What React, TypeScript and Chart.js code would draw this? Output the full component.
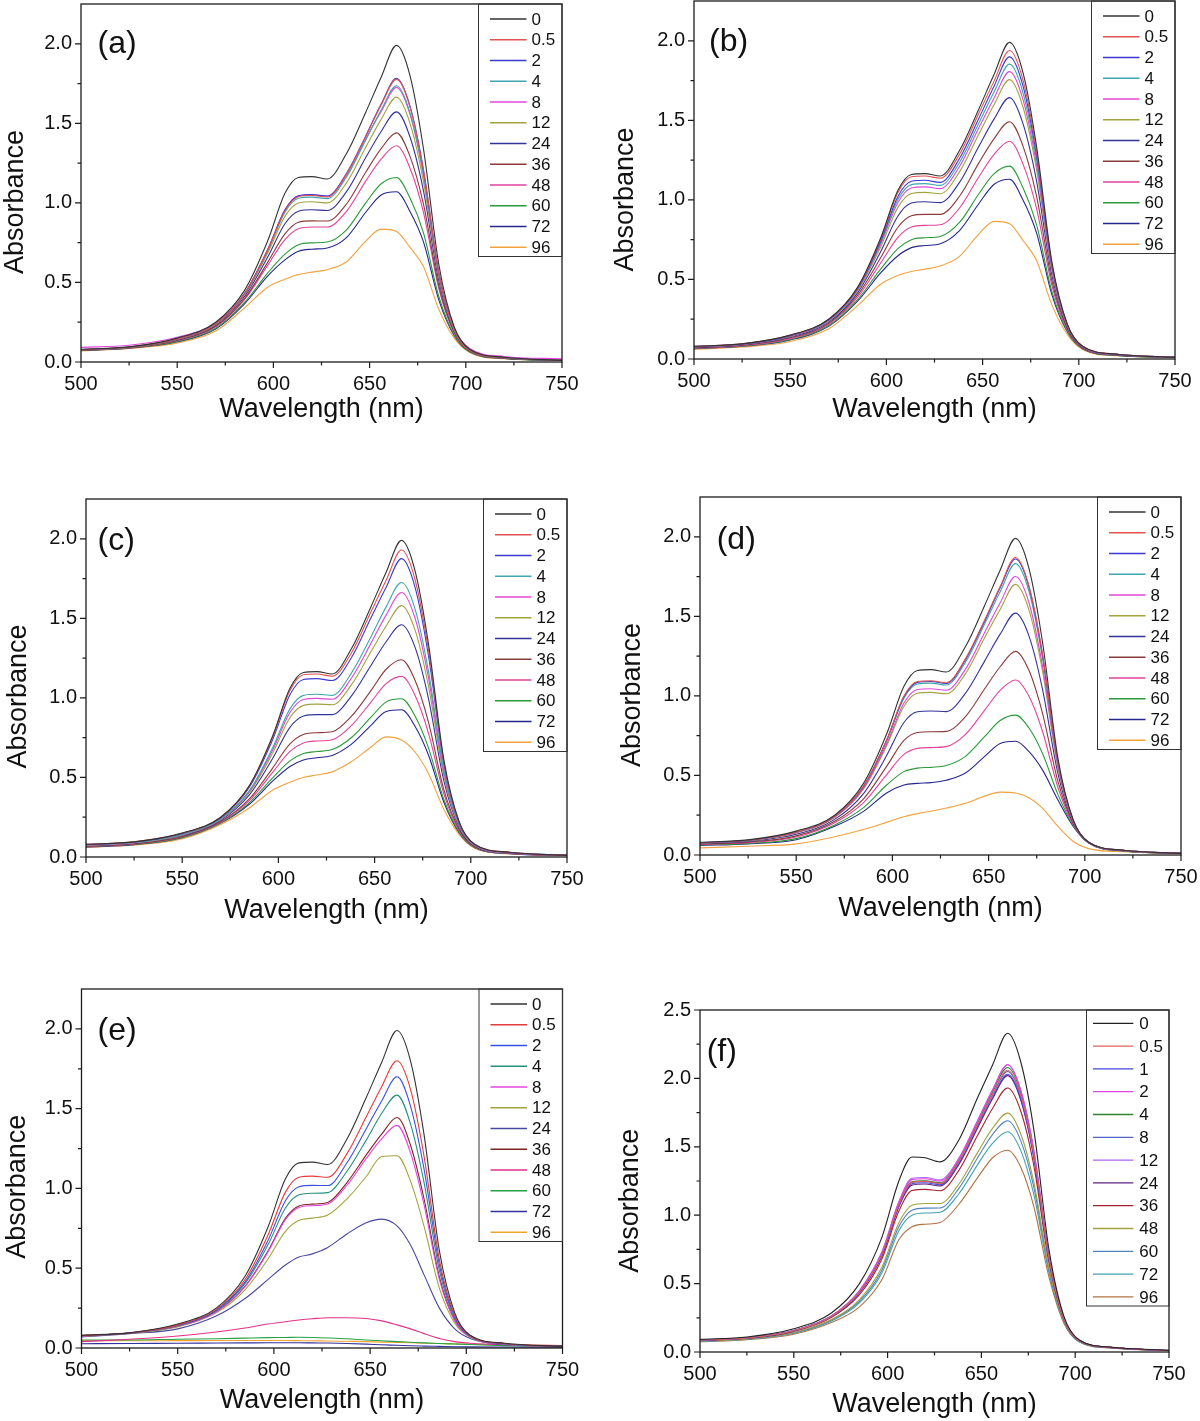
import React, { useEffect, useRef } from 'react';
import { Chart, registerables } from 'chart.js';

Chart.register(...registerables);

// ---------------- data ----------------
const WAVELENGTH = [500, 525, 550, 570, 585, 597, 606, 613, 620, 628, 638, 648, 656, 664, 671, 678, 686, 694, 702, 720, 750];
const X_MAJOR = [500, 550, 600, 650, 700, 750];
const X_MINOR = [525, 575, 625, 675, 725];
const Y_MAJOR_A = [0, 0.5, 1.0, 1.5, 2.0];
const Y_MINOR_A = [0.25, 0.75, 1.25, 1.75];
const Y_MAJOR_F = [0, 0.5, 1.0, 1.5, 2.0, 2.5];
const Y_MINOR_F = [0.25, 0.75, 1.25, 1.75, 2.25];
const HOURS_AE = ['0', '0.5', '2', '4', '8', '12', '24', '36', '48', '60', '72', '96'];
const HOURS_F = ['0', '0.5', '1', '2', '4', '8', '12', '24', '36', '48', '60', '72', '96'];

// panel (a)
const a0 = [0.08, 0.095, 0.15, 0.25, 0.45, 0.76, 1.06, 1.16, 1.165, 1.15, 1.31, 1.57, 1.79, 1.99, 1.80, 1.34, 0.61, 0.22, 0.08, 0.03, 0.01];
const a05 = [0.078, 0.093, 0.144, 0.239, 0.428, 0.703, 0.951, 1.039, 1.046, 1.037, 1.181, 1.416, 1.615, 1.776, 1.602, 1.205, 0.559, 0.207, 0.076, 0.028, 0.01];
const a2 = [0.079, 0.094, 0.145, 0.240, 0.430, 0.706, 0.956, 1.045, 1.052, 1.043, 1.186, 1.421, 1.621, 1.783, 1.608, 1.208, 0.560, 0.208, 0.077, 0.028, 0.01];
const a4 = [0.078, 0.093, 0.144, 0.238, 0.426, 0.698, 0.942, 1.029, 1.036, 1.027, 1.163, 1.395, 1.583, 1.736, 1.566, 1.179, 0.549, 0.205, 0.076, 0.028, 0.01];
const a8 = [0.092, 0.105, 0.155, 0.245, 0.43, 0.705, 0.955, 1.044, 1.051, 1.042, 1.169, 1.402, 1.574, 1.726, 1.556, 1.173, 0.547, 0.21, 0.085, 0.035, 0.02];
const a12 = [0.077, 0.092, 0.142, 0.235, 0.421, 0.683, 0.915, 0.999, 1.007, 1.0, 1.126, 1.35, 1.525, 1.665, 1.50, 1.134, 0.532, 0.20, 0.074, 0.027, 0.01];
const a24 = [0.077, 0.092, 0.14, 0.231, 0.412, 0.659, 0.869, 0.948, 0.957, 0.952, 1.071, 1.285, 1.449, 1.572, 1.414, 1.076, 0.51, 0.195, 0.073, 0.026, 0.01];
const a36 = [0.075, 0.09, 0.136, 0.225, 0.399, 0.626, 0.805, 0.878, 0.887, 0.886, 0.993, 1.193, 1.341, 1.44, 1.292, 0.992, 0.478, 0.187, 0.071, 0.025, 0.01];
const a48 = [0.075, 0.09, 0.134, 0.221, 0.392, 0.607, 0.769, 0.837, 0.848, 0.848, 0.947, 1.137, 1.275, 1.359, 1.218, 0.941, 0.459, 0.182, 0.069, 0.025, 0.015];
const a60 = [0.073, 0.088, 0.129, 0.212, 0.374, 0.559, 0.678, 0.737, 0.749, 0.754, 0.831, 1.0, 1.12, 1.16, 1.03, 0.812, 0.41, 0.17, 0.066, 0.023, 0.01];
const a72 = [0.072, 0.087, 0.127, 0.208, 0.366, 0.54, 0.642, 0.696, 0.709, 0.717, 0.782, 0.941, 1.05, 1.07, 0.946, 0.755, 0.389, 0.165, 0.064, 0.022, 0.01];
const a96 = [0.07, 0.085, 0.12, 0.195, 0.34, 0.47, 0.52, 0.55, 0.565, 0.58, 0.63, 0.76, 0.835, 0.82, 0.72, 0.60, 0.33, 0.15, 0.06, 0.02, 0.01];

// panel (b)
const b0 = [0.08, 0.095, 0.15, 0.25, 0.45, 0.76, 1.06, 1.16, 1.165, 1.15, 1.31, 1.57, 1.79, 1.99, 1.80, 1.34, 0.61, 0.22, 0.08, 0.03, 0.01];
const b05 = [0.08, 0.095, 0.149, 0.249, 0.447, 0.753, 1.046, 1.145, 1.15, 1.136, 1.287, 1.543, 1.748, 1.939, 1.753, 1.308, 0.598, 0.217, 0.079, 0.03, 0.01];
const b2 = [0.079, 0.094, 0.147, 0.246, 0.442, 0.74, 1.022, 1.117, 1.123, 1.11, 1.26, 1.511, 1.716, 1.899, 1.716, 1.282, 0.588, 0.215, 0.078, 0.029, 0.01];
const b4 = [0.078, 0.093, 0.146, 0.244, 0.438, 0.73, 1.003, 1.096, 1.102, 1.091, 1.235, 1.481, 1.679, 1.853, 1.673, 1.254, 0.578, 0.212, 0.078, 0.029, 0.01];
const b8 = [0.077, 0.092, 0.144, 0.242, 0.434, 0.72, 0.984, 1.075, 1.082, 1.071, 1.21, 1.452, 1.641, 1.806, 1.63, 1.224, 0.567, 0.21, 0.077, 0.028, 0.01];
const b12 = [0.076, 0.091, 0.142, 0.238, 0.427, 0.703, 0.953, 1.04, 1.047, 1.039, 1.176, 1.412, 1.60, 1.756, 1.584, 1.192, 0.555, 0.207, 0.076, 0.028, 0.01];
const b24 = [0.074, 0.089, 0.138, 0.232, 0.416, 0.674, 0.899, 0.98, 0.988, 0.983, 1.11, 1.335, 1.509, 1.643, 1.479, 1.121, 0.528, 0.20, 0.074, 0.027, 0.01];
const b36 = [0.071, 0.086, 0.133, 0.224, 0.401, 0.636, 0.828, 0.90, 0.909, 0.909, 1.023, 1.231, 1.385, 1.491, 1.338, 1.025, 0.492, 0.192, 0.071, 0.026, 0.01];
const b48 = [0.069, 0.084, 0.128, 0.218, 0.388, 0.603, 0.765, 0.83, 0.84, 0.844, 0.949, 1.144, 1.286, 1.369, 1.225, 0.948, 0.463, 0.185, 0.069, 0.025, 0.01];
const b60 = [0.067, 0.082, 0.123, 0.21, 0.373, 0.565, 0.694, 0.75, 0.762, 0.77, 0.858, 1.037, 1.165, 1.212, 1.076, 0.846, 0.425, 0.175, 0.066, 0.023, 0.01];
const b72 = [0.065, 0.08, 0.12, 0.205, 0.363, 0.541, 0.649, 0.70, 0.713, 0.724, 0.807, 0.976, 1.098, 1.13, 0.999, 0.794, 0.405, 0.171, 0.065, 0.022, 0.01];
const b96 = [0.06, 0.075, 0.11, 0.19, 0.335, 0.47, 0.525, 0.55, 0.565, 0.585, 0.645, 0.785, 0.865, 0.85, 0.745, 0.62, 0.34, 0.155, 0.06, 0.02, 0.01];

// panel (c)
const c0 = [0.08, 0.095, 0.15, 0.25, 0.45, 0.76, 1.06, 1.16, 1.165, 1.15, 1.31, 1.57, 1.79, 1.99, 1.80, 1.34, 0.61, 0.22, 0.08, 0.03, 0.01];
const c05 = [0.08, 0.095, 0.149, 0.249, 0.447, 0.752, 1.046, 1.145, 1.15, 1.136, 1.284, 1.538, 1.739, 1.929, 1.744, 1.30, 0.595, 0.216, 0.079, 0.03, 0.01];
const c2 = [0.079, 0.094, 0.148, 0.247, 0.441, 0.737, 1.02, 1.116, 1.121, 1.109, 1.254, 1.50, 1.695, 1.875, 1.696, 1.265, 0.582, 0.213, 0.078, 0.029, 0.01];
const c4 = [0.076, 0.091, 0.142, 0.24, 0.419, 0.686, 0.931, 1.016, 1.023, 1.016, 1.157, 1.381, 1.572, 1.725, 1.56, 1.168, 0.545, 0.203, 0.075, 0.028, 0.01];
const c8 = [0.075, 0.09, 0.141, 0.238, 0.414, 0.672, 0.908, 0.99, 0.997, 0.991, 1.125, 1.341, 1.52, 1.662, 1.502, 1.127, 0.529, 0.199, 0.073, 0.027, 0.01];
const c12 = [0.074, 0.089, 0.139, 0.236, 0.406, 0.653, 0.875, 0.953, 0.961, 0.957, 1.083, 1.288, 1.452, 1.58, 1.427, 1.074, 0.509, 0.194, 0.072, 0.027, 0.01];
const c24 = [0.072, 0.087, 0.135, 0.231, 0.392, 0.619, 0.815, 0.886, 0.895, 0.895, 1.013, 1.202, 1.353, 1.46, 1.319, 0.996, 0.479, 0.186, 0.069, 0.026, 0.01];
const c36 = [0.068, 0.083, 0.129, 0.223, 0.367, 0.559, 0.711, 0.77, 0.781, 0.787, 0.885, 1.044, 1.18, 1.24, 1.111, 0.848, 0.423, 0.172, 0.065, 0.024, 0.01];
const c48 = [0.067, 0.082, 0.127, 0.22, 0.356, 0.532, 0.664, 0.717, 0.729, 0.737, 0.827, 0.972, 1.09, 1.135, 1.016, 0.779, 0.397, 0.165, 0.063, 0.023, 0.01];
const c60 = [0.065, 0.08, 0.123, 0.215, 0.342, 0.497, 0.604, 0.65, 0.663, 0.675, 0.751, 0.877, 0.975, 0.995, 0.886, 0.686, 0.361, 0.156, 0.06, 0.022, 0.01];
const c72 = [0.063, 0.078, 0.121, 0.213, 0.333, 0.477, 0.569, 0.61, 0.624, 0.638, 0.709, 0.826, 0.915, 0.925, 0.822, 0.641, 0.344, 0.151, 0.059, 0.021, 0.01];
const c96 = [0.06, 0.075, 0.115, 0.205, 0.31, 0.42, 0.47, 0.50, 0.515, 0.535, 0.60, 0.69, 0.755, 0.735, 0.66, 0.525, 0.30, 0.14, 0.055, 0.02, 0.01];

// panel (d)
const d0 = [0.08, 0.095, 0.15, 0.25, 0.45, 0.76, 1.06, 1.16, 1.165, 1.15, 1.31, 1.57, 1.79, 1.99, 1.80, 1.34, 0.61, 0.22, 0.08, 0.03, 0.01];
const d05 = [0.078, 0.093, 0.145, 0.243, 0.433, 0.723, 0.999, 1.09, 1.095, 1.083, 1.234, 1.479, 1.688, 1.87, 1.692, 1.264, 0.585, 0.216, 0.08, 0.03, 0.01];
const d2 = [0.078, 0.092, 0.144, 0.243, 0.431, 0.721, 0.994, 1.085, 1.09, 1.078, 1.227, 1.471, 1.679, 1.86, 1.683, 1.258, 0.583, 0.216, 0.08, 0.03, 0.01];
const d4 = [0.078, 0.092, 0.144, 0.242, 0.429, 0.716, 0.986, 1.075, 1.08, 1.068, 1.212, 1.453, 1.654, 1.831, 1.656, 1.239, 0.577, 0.215, 0.079, 0.029, 0.01];
const d8 = [0.077, 0.091, 0.141, 0.238, 0.42, 0.697, 0.955, 1.04, 1.045, 1.035, 1.168, 1.40, 1.585, 1.75, 1.584, 1.189, 0.561, 0.212, 0.079, 0.029, 0.01];
const d12 = [0.076, 0.09, 0.139, 0.236, 0.415, 0.686, 0.935, 1.017, 1.022, 1.013, 1.14, 1.367, 1.543, 1.701, 1.539, 1.157, 0.55, 0.211, 0.079, 0.029, 0.01];
const d24 = [0.073, 0.086, 0.13, 0.224, 0.386, 0.625, 0.833, 0.90, 0.905, 0.901, 1.017, 1.22, 1.388, 1.52, 1.376, 1.043, 0.513, 0.205, 0.078, 0.028, 0.01];
const d36 = [0.069, 0.081, 0.12, 0.212, 0.353, 0.557, 0.72, 0.77, 0.775, 0.777, 0.87, 1.045, 1.183, 1.28, 1.159, 0.892, 0.464, 0.198, 0.077, 0.027, 0.01];
const d48 = [0.066, 0.078, 0.113, 0.202, 0.329, 0.505, 0.632, 0.67, 0.675, 0.681, 0.758, 0.911, 1.035, 1.10, 0.997, 0.778, 0.426, 0.192, 0.077, 0.027, 0.01];
const d60 = [0.063, 0.073, 0.103, 0.189, 0.298, 0.44, 0.524, 0.546, 0.551, 0.562, 0.62, 0.745, 0.845, 0.879, 0.798, 0.639, 0.381, 0.185, 0.076, 0.026, 0.01];
const d72 = [0.06, 0.07, 0.096, 0.18, 0.274, 0.39, 0.44, 0.45, 0.455, 0.47, 0.515, 0.62, 0.70, 0.715, 0.65, 0.535, 0.347, 0.18, 0.075, 0.025, 0.01];
const d96 = [0.045, 0.055, 0.07, 0.115, 0.16, 0.205, 0.24, 0.26, 0.275, 0.295, 0.325, 0.37, 0.395, 0.39, 0.36, 0.295, 0.18, 0.085, 0.04, 0.02, 0.01];

// panel (e)
const e0 = [0.08, 0.095, 0.15, 0.25, 0.45, 0.76, 1.06, 1.16, 1.165, 1.15, 1.31, 1.57, 1.79, 1.99, 1.80, 1.34, 0.61, 0.22, 0.08, 0.03, 0.01];
const e05 = [0.078, 0.094, 0.145, 0.242, 0.429, 0.71, 0.977, 1.07, 1.077, 1.07, 1.218, 1.449, 1.638, 1.80, 1.621, 1.204, 0.554, 0.205, 0.077, 0.028, 0.01];
const e2 = [0.077, 0.094, 0.142, 0.237, 0.414, 0.676, 0.923, 1.01, 1.019, 1.018, 1.161, 1.374, 1.548, 1.70, 1.516, 1.124, 0.521, 0.195, 0.075, 0.027, 0.01];
const e4 = [0.077, 0.093, 0.14, 0.233, 0.403, 0.648, 0.877, 0.96, 0.97, 0.974, 1.108, 1.303, 1.47, 1.585, 1.405, 1.039, 0.487, 0.186, 0.073, 0.027, 0.01];
const e8 = [0.075, 0.093, 0.136, 0.226, 0.384, 0.603, 0.804, 0.88, 0.892, 0.903, 1.02, 1.188, 1.31, 1.395, 1.223, 0.90, 0.43, 0.17, 0.07, 0.025, 0.01];
const e12 = [0.074, 0.092, 0.132, 0.22, 0.365, 0.559, 0.731, 0.80, 0.814, 0.833, 0.935, 1.075, 1.20, 1.205, 1.046, 0.765, 0.375, 0.155, 0.067, 0.024, 0.01];
const e24 = [0.07, 0.09, 0.12, 0.20, 0.31, 0.43, 0.52, 0.57, 0.59, 0.63, 0.715, 0.785, 0.808, 0.765, 0.645, 0.46, 0.25, 0.12, 0.06, 0.02, 0.01];
const e36 = [0.075, 0.093, 0.136, 0.227, 0.386, 0.609, 0.813, 0.89, 0.902, 0.912, 1.037, 1.21, 1.34, 1.445, 1.271, 0.937, 0.445, 0.174, 0.071, 0.025, 0.01];
const e48 = [0.04, 0.055, 0.075, 0.10, 0.125, 0.15, 0.165, 0.175, 0.183, 0.19, 0.19, 0.185, 0.17, 0.145, 0.12, 0.09, 0.06, 0.04, 0.03, 0.02, 0.015];
const e60 = [0.05, 0.05, 0.055, 0.058, 0.062, 0.065, 0.066, 0.067, 0.066, 0.063, 0.058, 0.05, 0.045, 0.04, 0.036, 0.032, 0.028, 0.025, 0.022, 0.015, 0.01];
const e72 = [0.027, 0.028, 0.03, 0.031, 0.032, 0.033, 0.033, 0.033, 0.032, 0.031, 0.028, 0.024, 0.02, 0.017, 0.014, 0.012, 0.01, 0.008, 0.007, 0.006, 0.005];
const e96 = [0.045, 0.045, 0.046, 0.047, 0.047, 0.047, 0.047, 0.046, 0.045, 0.044, 0.042, 0.04, 0.037, 0.035, 0.033, 0.03, 0.028, 0.026, 0.024, 0.02, 0.015];

// panel (f)
const f0 = [0.093, 0.11, 0.17, 0.285, 0.50, 0.84, 1.25, 1.425, 1.42, 1.39, 1.55, 1.86, 2.10, 2.33, 2.12, 1.62, 0.75, 0.26, 0.09, 0.035, 0.012];
const f05 = [0.087, 0.103, 0.156, 0.26, 0.44, 0.717, 1.078, 1.24, 1.247, 1.232, 1.392, 1.663, 1.885, 2.06, 1.877, 1.443, 0.687, 0.244, 0.085, 0.033, 0.011];
const f1 = [0.086, 0.102, 0.155, 0.259, 0.436, 0.711, 1.07, 1.23, 1.237, 1.223, 1.379, 1.647, 1.861, 2.03, 1.85, 1.423, 0.68, 0.242, 0.085, 0.033, 0.011];
const f2 = [0.087, 0.104, 0.157, 0.263, 0.446, 0.728, 1.093, 1.26, 1.266, 1.249, 1.412, 1.689, 1.917, 2.10, 1.913, 1.469, 0.696, 0.247, 0.086, 0.033, 0.011];
const f4 = [0.087, 0.103, 0.156, 0.261, 0.441, 0.719, 1.081, 1.245, 1.251, 1.236, 1.40, 1.673, 1.901, 2.08, 1.895, 1.456, 0.692, 0.245, 0.086, 0.033, 0.011];
const f8 = [0.087, 0.103, 0.156, 0.26, 0.44, 0.717, 1.078, 1.24, 1.247, 1.232, 1.389, 1.66, 1.878, 2.05, 1.868, 1.437, 0.685, 0.244, 0.085, 0.033, 0.011];
const f12 = [0.088, 0.104, 0.158, 0.264, 0.45, 0.734, 1.10, 1.27, 1.276, 1.258, 1.417, 1.694, 1.917, 2.10, 1.913, 1.469, 0.696, 0.247, 0.086, 0.033, 0.011];
const f24 = [0.086, 0.102, 0.154, 0.257, 0.433, 0.705, 1.062, 1.22, 1.228, 1.214, 1.371, 1.638, 1.853, 2.02, 1.84, 1.417, 0.677, 0.242, 0.085, 0.032, 0.011];
const f36 = [0.084, 0.10, 0.151, 0.252, 0.419, 0.682, 1.03, 1.18, 1.189, 1.179, 1.328, 1.584, 1.782, 1.93, 1.76, 1.358, 0.656, 0.237, 0.083, 0.032, 0.011];
const f48 = [0.081, 0.096, 0.143, 0.237, 0.383, 0.621, 0.945, 1.073, 1.086, 1.085, 1.228, 1.459, 1.636, 1.746, 1.594, 1.238, 0.613, 0.226, 0.08, 0.03, 0.011];
const f60 = [0.079, 0.095, 0.14, 0.232, 0.371, 0.60, 0.917, 1.037, 1.052, 1.053, 1.196, 1.42, 1.591, 1.69, 1.543, 1.201, 0.60, 0.223, 0.079, 0.03, 0.011];
const f72 = [0.078, 0.093, 0.137, 0.227, 0.359, 0.579, 0.887, 1.0, 1.016, 1.021, 1.157, 1.37, 1.527, 1.61, 1.472, 1.148, 0.582, 0.218, 0.077, 0.029, 0.011];
const f96 = [0.075, 0.09, 0.13, 0.215, 0.33, 0.53, 0.82, 0.915, 0.934, 0.946, 1.08, 1.275, 1.42, 1.475, 1.35, 1.06, 0.55, 0.21, 0.075, 0.028, 0.01];

const SERIES_A = [a0, a05, a2, a4, a8, a12, a24, a36, a48, a60, a72, a96];
const SERIES_B = [b0, b05, b2, b4, b8, b12, b24, b36, b48, b60, b72, b96];
const SERIES_C = [c0, c05, c2, c4, c8, c12, c24, c36, c48, c60, c72, c96];
const SERIES_D = [d0, d05, d2, d4, d8, d12, d24, d36, d48, d60, d72, d96];
const SERIES_E = [e0, e05, e2, e4, e8, e12, e24, e36, e48, e60, e72, e96];
const SERIES_F = [f0, f05, f1, f2, f4, f8, f12, f24, f36, f48, f60, f72, f96];

// ---------------- styles ----------------
const COLORS_AD = ['#333333', '#e25252', '#3a3ad2', '#3ea6ae', '#e246d8', '#a3a33e', '#33339a', '#8b3a3a', '#e2439c', '#2b9a3b', '#26268e', '#f2a23e'];
const COLORS_E = ['#333333', '#e63a3a', '#3a50e0', '#24907f', '#e444e0', '#a3a33e', '#4848a0', '#7e2424', '#e2318a', '#28a244', '#32329e', '#f2a232'];
const COLORS_F = ['#222222', '#e26262', '#4545e0', '#e046e0', '#318231', '#5262c4', '#b264f2', '#602282', '#a22232', '#a3a33e', '#5282c2', '#40a2b2', '#b27242'];
const FONT = '"Liberation Sans", Arial, Helvetica, sans-serif';

type Legend = { boxW: number; boxH: number; first: number; step: number; lineStart: number; lineEnd: number; textOff: number };
const LEG_AE: Legend = { boxW: 83.5, boxH: 252.5, first: 15, step: 20.75, lineStart: 72, lineEnd: 35.5, textOff: 30.5 };
const LEG_F: Legend = { boxW: 82.5, boxH: 296, first: 13.3, step: 22.8, lineStart: 76, lineEnd: 35.7, textOff: 29.7 };

type Panel = {
  letter: string;
  cv: { x: number; y: number; w: number; h: number };
  plot: { l: number; r: number; t: number; b: number };
  yMax: number;
  yMajor: number[];
  yMinor: number[];
  series: number[][];
  labels: string[];
  colors: string[];
  letterPos: [number, number];
  yTitle: [number, number];
  xTitleY: number;
  legend: Legend;
};

const PANELS: Panel[] = [
  { letter: '(a)', cv: { x: 0, y: 0, w: 600, h: 470 }, plot: { l: 81, r: 562, t: 4, b: 362 }, yMax: 2.25, yMajor: Y_MAJOR_A, yMinor: Y_MINOR_A, series: SERIES_A, labels: HOURS_AE, colors: COLORS_AD, letterPos: [97.5, 44], yTitle: [15.5, 202], xTitleY: 410, legend: LEG_AE },
  { letter: '(b)', cv: { x: 600, y: 0, w: 600, h: 470 }, plot: { l: 694, r: 1175, t: 1, b: 359 }, yMax: 2.25, yMajor: Y_MAJOR_A, yMinor: Y_MINOR_A, series: SERIES_B, labels: HOURS_AE, colors: COLORS_AD, letterPos: [709, 42], yTitle: [626, 199.5], xTitleY: 410, legend: LEG_AE },
  { letter: '(c)', cv: { x: 0, y: 470, w: 600, h: 490 }, plot: { l: 86, r: 567, t: 499, b: 857 }, yMax: 2.25, yMajor: Y_MAJOR_A, yMinor: Y_MINOR_A, series: SERIES_C, labels: HOURS_AE, colors: COLORS_AD, letterPos: [97.6, 541], yTitle: [18.2, 696.5], xTitleY: 910.7, legend: LEG_AE },
  { letter: '(d)', cv: { x: 600, y: 470, w: 600, h: 490 }, plot: { l: 700, r: 1181, t: 497, b: 855 }, yMax: 2.25, yMajor: Y_MAJOR_A, yMinor: Y_MINOR_A, series: SERIES_D, labels: HOURS_AE, colors: COLORS_AD, letterPos: [716.7, 540], yTitle: [632.5, 695], xTitleY: 909, legend: LEG_AE },
  { letter: '(e)', cv: { x: 0, y: 960, w: 600, h: 461 }, plot: { l: 81.5, r: 562.5, t: 989, b: 1348 }, yMax: 2.25, yMajor: Y_MAJOR_A, yMinor: Y_MINOR_A, series: SERIES_E, labels: HOURS_AE, colors: COLORS_E, letterPos: [97.6, 1031], yTitle: [17.2, 1186.7], xTitleY: 1400.7, legend: LEG_AE },
  { letter: '(f)', cv: { x: 600, y: 960, w: 600, h: 461 }, plot: { l: 700, r: 1169, t: 1010, b: 1352 }, yMax: 2.5, yMajor: Y_MAJOR_F, yMinor: Y_MINOR_F, series: SERIES_F, labels: HOURS_F, colors: COLORS_F, letterPos: [706.7, 1052], yTitle: [631, 1200.8], xTitleY: 1405, legend: LEG_F },
];

function makeDecor(p: Panel) {
  return {
    id: 'decor' + p.letter,
    afterDraw(chart: any) {
      const { ctx, chartArea: ca, scales } = chart;
      const xs = scales.x;
      const ys = scales.y;
      const ox = p.cv.x;
      const oy = p.cv.y;
      ctx.save();
      // frame
      ctx.strokeStyle = '#1c1c1c';
      ctx.lineWidth = 1.3;
      ctx.strokeRect(ca.left, ca.top, ca.right - ca.left, ca.bottom - ca.top);
      // ticks
      ctx.lineWidth = 1.2;
      ctx.beginPath();
      X_MAJOR.forEach((v) => { const px = xs.getPixelForValue(v); ctx.moveTo(px, ca.bottom); ctx.lineTo(px, ca.bottom + 6); });
      X_MINOR.forEach((v) => { const px = xs.getPixelForValue(v); ctx.moveTo(px, ca.bottom); ctx.lineTo(px, ca.bottom + 3.5); });
      p.yMajor.forEach((v) => { const py = ys.getPixelForValue(v); ctx.moveTo(ca.left, py); ctx.lineTo(ca.left - 6, py); });
      p.yMinor.forEach((v) => { const py = ys.getPixelForValue(v); ctx.moveTo(ca.left, py); ctx.lineTo(ca.left - 3.5, py); });
      ctx.stroke();
      // legend
      const L = p.legend;
      ctx.strokeStyle = '#333333';
      ctx.lineWidth = 1;
      ctx.strokeRect(ca.right - L.boxW, ca.top, L.boxW, L.boxH);
      ctx.font = '17px ' + FONT;
      ctx.textBaseline = 'middle';
      ctx.textAlign = 'left';
      p.labels.forEach((lab, i) => {
        const y = ca.top + L.first + i * L.step;
        ctx.strokeStyle = p.colors[i];
        ctx.lineWidth = 1.3;
        ctx.beginPath();
        ctx.moveTo(ca.right - L.lineStart, y);
        ctx.lineTo(ca.right - L.lineEnd, y);
        ctx.stroke();
        ctx.fillStyle = '#111111';
        ctx.fillText(lab, ca.right - L.textOff, y + 1);
      });
      // panel letter
      ctx.fillStyle = '#111111';
      ctx.font = '32px ' + FONT;
      ctx.textAlign = 'left';
      ctx.fillText(p.letter, p.letterPos[0] - ox, p.letterPos[1] - oy);
      // axis titles
      ctx.font = '27px ' + FONT;
      ctx.textAlign = 'center';
      ctx.fillText('Wavelength (nm)', (ca.left + ca.right) / 2, p.xTitleY - oy);
      ctx.translate(p.yTitle[0] - ox, p.yTitle[1] - oy);
      ctx.rotate(-Math.PI / 2);
      ctx.fillText('Absorbance', 0, 0);
      ctx.restore();
    },
  };
}

function PanelChart({ p }: { p: Panel }) {
  const ref = useRef<HTMLCanvasElement | null>(null);
  useEffect(() => {
    if (!ref.current) return;
    const yW = p.plot.l - p.cv.x;
    const xH = p.cv.y + p.cv.h - p.plot.b;
    const datasets = p.series.map((vals, i) => ({
      label: p.labels[i],
      data: WAVELENGTH.map((x, k) => ({ x, y: vals[k] })),
      borderColor: p.colors[i],
      backgroundColor: p.colors[i],
      borderWidth: 1.1,
      pointRadius: 0,
      fill: false,
      cubicInterpolationMode: 'monotone' as const,
    }));
    const tickFont = { family: FONT, size: 20 };
    const chart = new Chart(ref.current, {
      type: 'line',
      data: { datasets },
      options: {
        animation: false,
        responsive: false,
        maintainAspectRatio: false,
        devicePixelRatio: 1,
        events: [],
        layout: { padding: { left: 0, top: p.plot.t - p.cv.y, right: p.cv.x + p.cv.w - p.plot.r, bottom: 0 } },
        plugins: { legend: { display: false }, tooltip: { enabled: false }, title: { display: false } },
        scales: {
          x: {
            type: 'linear',
            position: 'bottom',
            min: 500,
            max: 750,
            grid: { display: false, drawTicks: false },
            border: { display: false },
            ticks: { font: tickFont, color: '#111111', padding: 10, maxRotation: 0, autoSkip: false, callback: (v: any) => String(v) },
            afterBuildTicks: (s: any) => { s.ticks = X_MAJOR.map((v) => ({ value: v })); },
            afterFit: (s: any) => { s.height = xH; s.paddingLeft = 0; s.paddingRight = 0; },
          },
          y: {
            type: 'linear',
            min: 0,
            max: p.yMax,
            grid: { display: false, drawTicks: false },
            border: { display: false },
            ticks: { font: tickFont, color: '#111111', padding: 9, autoSkip: false, callback: (v: any) => Number(v).toFixed(1) },
            afterBuildTicks: (s: any) => { s.ticks = p.yMajor.map((v) => ({ value: v })); },
            afterFit: (s: any) => { s.width = yW; s.paddingTop = 0; s.paddingBottom = 0; },
          },
        },
      } as any,
      plugins: [makeDecor(p)],
    });
    return () => chart.destroy();
  }, [p]);
  return (
    <canvas
      ref={ref}
      width={p.cv.w}
      height={p.cv.h}
      style={{ position: 'absolute', left: p.cv.x, top: p.cv.y, width: p.cv.w, height: p.cv.h }}
    />
  );
}

export default function App() {
  return (
    <div style={{ position: 'absolute', left: 0, top: 0, width: 1200, height: 1421, background: '#ffffff', overflow: 'hidden' }}>
      {PANELS.map((p) => (
        <PanelChart key={p.letter} p={p} />
      ))}
    </div>
  );
}
